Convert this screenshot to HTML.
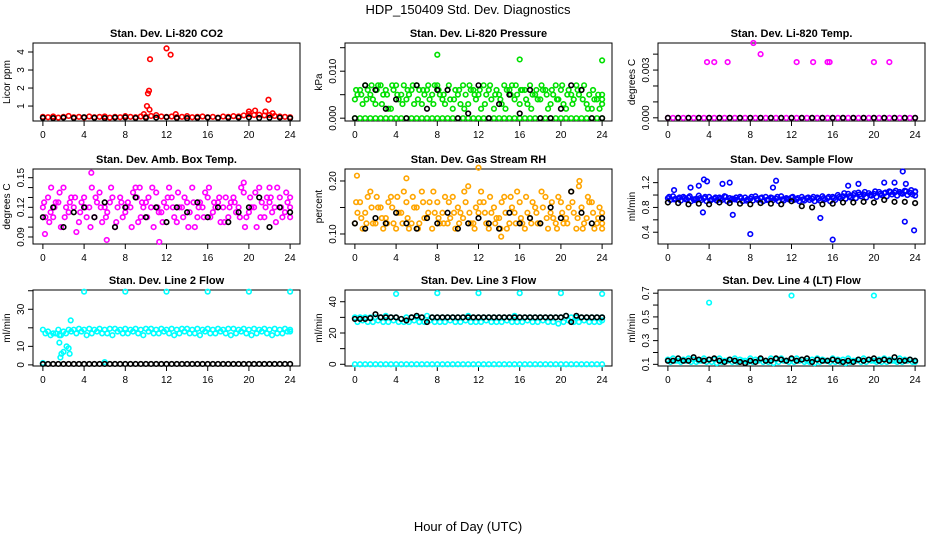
<!DOCTYPE html>
<html><head><meta charset="utf-8"><style>
body{margin:0;background:#fff}
svg{display:block;font-family:"Liberation Sans",sans-serif}
</style></head><body>
<svg id="chart" width="936" height="540" viewBox="0 0 936 540" xmlns="http://www.w3.org/2000/svg">
<text x="468" y="14" text-anchor="middle" font-size="13">HDP_150409  Std. Dev. Diagnostics</text>
<text x="468" y="531" text-anchor="middle" font-size="13">Hour of Day (UTC)</text>
</svg>
<script>
// ---- data ----
const co2Red=[0.4,0.38,0.42,0.36,0.4,0.45,0.38,0.4,0.36,0.42,0.38,0.4,0.42,0.36,0.4,0.38,0.44,0.4,0.38,0.42,0.4,0.45,0.5,0.42,0.4,0.42,0.38,0.4,0.44,0.38,0.4,0.42,0.38,0.4,0.36,0.42,0.4,0.44,0.42,0.48,0.55,0.5,0.52,0.48,0.5,0.45,0.42,0.4,0.38];
const co2Black=[0.35,0.33,0.36,0.34,0.38,0.35,0.33,0.36,0.37,0.34,0.35,0.36,0.38,0.34,0.33,0.35,0.36,0.34,0.35,0.36,0.37,0.34,0.35,0.36,0.33];
const co2OutX=[10.1,10.2,10.3,10.4,10.35,12,12.4,21.9,20,20.6,21.6,22.3,9.8,12.9];
const co2OutY=[1.0,1.7,1.85,3.6,0.8,4.2,3.85,1.35,0.7,0.75,0.7,0.6,0.55,0.55];

const presGreenA=[0.004,0.006,0.007,0.005,0.003,0.007,0.006,0.002,0.007,0.005,0.004,0.006,0.007,0.003,0.006,0.005,0.007,0.004,0.006,0.002,0.005,0.007,0.003,0.006,0.005,0.007,0.006,0.002,0.005,0.007,0.006,0.004,0.003,0.006,0.007,0.005,0.004,0.006,0.003,0.007,0.006,0.002,0.005,0.007,0.006,0.003,0.002,0.004,0.003];
const presGreenB=[0.005,0.003,0.006,0.004,0.007,0.005,0.002,0.006,0.004,0.007,0.005,0.003,0.006,0.005,0.004,0.007,0.005,0.003,0.004,0.006,0.003,0.005,0.006,0.004,0.002,0.005,0.004,0.006,0.003,0.006,0.007,0.005,0.006,0.003,0.005,0.004,0.006,0.002,0.005,0.004,0.003,0.006,0.004,0.005,0.007,0.005,0.004,0.002,0.005];
const presGreenC=[0.006,0.005,0.004,0.007,0.006,0.003,0.005,0.007,0.005,0.003,0.006,0.007,0.004,0.006,0.007,0.003,0.006,0.005,0.007,0.004,0.006,0.002,0.007,0.005,0.006,0.003,0.007,0.005,0.004,0.002,0.005,0.007,0.006,0.004,0.002,0.006,0.007,0.005,0.006,0.004,0.007,0.005,0.003,0.006,0.004,0.002,0.006,0.005,0.004];
const presGreenZero=[0,0,0,0,0,0,0,0,0,0,0,0,0,0,0,0,0,0,0,0,0,0,0,0,0,0,0,0,0,0,0,0,0,0,0,0,0,0,0,0,0,0,0,0,0,0,0,0,0];
const presBlack=[0,0.007,0.006,0.002,0.004,0,0.007,0.002,0.006,0.006,0,0.001,0.007,0,0.003,0.005,0.001,0.006,0,0,0.002,0.007,0.006,0,0];
const presOutX=[8,16,24];
const presOutY=[0.0135,0.0125,0.0123];

const tempMag=[0,0,0,0,0,0,0,0,0,0,0,0,0,0,0,0,0,0,0,0,0,0,0,0,0,0,0,0,0,0,0,0,0,0,0,0,0,0,0,0,0,0,0,0,0,0,0,0,0];
const tempBlack=[0,0,0,0,0,0,0,0,0,0,0,0,0,0,0,0,0,0,0,0,0,0,0,0,0];
const tempOutX=[3.8,4.5,5.8,8.3,9,12.5,14.1,15.5,15.7,20,21.5];
const tempOutY=[0.0035,0.0035,0.0035,0.0047,0.004,0.0035,0.0035,0.0035,0.0035,0.0035,0.0035];

const ambA=[0.12,0.13,0.11,0.125,0.14,0.115,0.12,0.105,0.13,0.12,0.11,0.135,0.12,0.125,0.1,0.13,0.115,0.12,0.14,0.11,0.125,0.12,0.135,0.115,0.12,0.13,0.105,0.12,0.125,0.14,0.11,0.12,0.13,0.115,0.125,0.12,0.11,0.13,0.12,0.135,0.115,0.12,0.14,0.11,0.125,0.12,0.13,0.115,0.12];
const ambB=[0.11,0.115,0.125,0.1,0.12,0.13,0.095,0.125,0.11,0.14,0.125,0.105,0.115,0.13,0.12,0.11,0.125,0.135,0.105,0.12,0.13,0.1,0.115,0.125,0.14,0.11,0.12,0.13,0.115,0.1,0.125,0.135,0.11,0.12,0.105,0.13,0.125,0.115,0.14,0.11,0.12,0.1,0.125,0.13,0.115,0.14,0.11,0.125,0.13];
const ambC=[0.125,0.105,0.12,0.135,0.11,0.125,0.13,0.115,0.12,0.1,0.13,0.12,0.11,0.14,0.105,0.125,0.12,0.1,0.13,0.125,0.11,0.14,0.12,0.105,0.13,0.12,0.135,0.11,0.1,0.125,0.12,0.11,0.14,0.125,0.13,0.105,0.12,0.125,0.11,0.1,0.13,0.135,0.11,0.12,0.13,0.105,0.12,0.135,0.11];
const ambBlack=[0.11,0.12,0.1,0.115,0.12,0.11,0.125,0.1,0.12,0.13,0.11,0.12,0.105,0.12,0.115,0.125,0.11,0.12,0.105,0.115,0.12,0.13,0.1,0.12,0.115];
const ambOutX=[4.7,6.2,11.3,19.5,22,0.2,0.8,9.4];
const ambOutY=[0.155,0.087,0.085,0.145,0.14,0.093,0.14,0.14];

const rhA=[0.12,0.16,0.14,0.18,0.12,0.15,0.13,0.17,0.11,0.14,0.16,0.12,0.15,0.18,0.13,0.11,0.16,0.14,0.12,0.17,0.15,0.13,0.19,0.12,0.14,0.16,0.11,0.15,0.13,0.17,0.12,0.14,0.16,0.11,0.13,0.15,0.12,0.17,0.14,0.12,0.16,0.13,0.18,0.11,0.15,0.13,0.16,0.12,0.14];
const rhB=[0.14,0.11,0.17,0.12,0.15,0.11,0.16,0.12,0.14,0.18,0.11,0.15,0.12,0.13,0.16,0.14,0.12,0.17,0.13,0.11,0.14,0.16,0.12,0.15,0.18,0.12,0.14,0.13,0.16,0.11,0.15,0.18,0.12,0.14,0.16,0.12,0.15,0.11,0.13,0.17,0.12,0.15,0.14,0.19,0.12,0.16,0.11,0.15,0.12];
const rhC=[0.16,0.13,0.12,0.15,0.17,0.13,0.12,0.15,0.17,0.12,0.13,0.17,0.11,0.16,0.14,0.18,0.13,0.12,0.16,0.14,0.12,0.18,0.14,0.11,0.16,0.14,0.17,0.12,0.11,0.14,0.17,0.12,0.13,0.17,0.12,0.14,0.18,0.13,0.16,0.11,0.14,0.12,0.16,0.13,0.11,0.17,0.14,0.13,0.11];
const rhBlack=[0.12,0.11,0.13,0.12,0.14,0.12,0.11,0.13,0.12,0.14,0.11,0.12,0.13,0.12,0.11,0.14,0.12,0.13,0.12,0.15,0.13,0.18,0.14,0.12,0.13];
const rhOutX=[0.2,5,12,21.8,14.2];
const rhOutY=[0.21,0.205,0.225,0.2,0.095];

const flowA=[0.95,0.98,0.94,0.97,0.96,0.93,0.99,0.95,0.97,0.94,0.96,0.98,0.95,0.93,0.97,0.96,0.94,0.98,0.95,0.97,0.96,0.94,0.98,0.95,0.96,0.93,0.97,0.95,0.94,0.96,0.98,0.95,0.97,1.0,0.98,1.02,1.0,1.04,1.01,1.03,1.02,1.05,1.03,1.06,1.04,1.05,1.07,1.04,1.05];
const flowB=[0.92,0.94,0.91,0.93,0.9,0.94,0.92,0.9,0.93,0.91,0.92,0.9,0.94,0.92,0.9,0.93,0.91,0.92,0.9,0.93,0.92,0.9,0.91,0.93,0.92,0.9,0.91,0.92,0.9,0.91,0.93,0.9,0.92,0.95,0.94,0.96,0.95,0.98,0.96,0.99,0.97,1.0,0.98,1.01,0.99,1.02,1.0,1.01,0.99];
const flowC=[0.97,0.93,0.96,0.95,0.98,0.92,0.95,0.97,0.91,0.96,0.94,0.97,0.92,0.96,0.95,0.91,0.97,0.94,0.96,0.92,0.95,0.97,0.93,0.94,0.97,0.95,0.93,0.96,0.97,0.94,0.95,0.97,0.95,0.97,1.03,0.98,1.03,1.01,1.05,1.0,1.06,1.02,1.04,1.05,1.07,1.03,1.06,1.08,1.06];
const flowBlack=[0.88,0.87,0.85,0.86,0.85,0.88,0.87,0.86,0.85,0.87,0.86,0.85,0.9,0.82,0.8,0.85,0.86,0.88,0.88,0.89,0.88,0.92,0.89,0.89,0.87];
const flowOutX=[0.6,2.2,3,3.5,3.8,3.4,5.3,6,6.3,8,10.5,10.2,14.8,16,17.5,18.5,21,22,22.8,23,23.9,23.1];
const flowOutY=[1.08,1.12,1.15,1.25,1.22,0.72,1.18,1.2,0.68,0.37,1.23,1.12,0.63,0.28,1.15,1.18,1.2,1.2,1.38,0.57,0.43,1.18];

const l2A=[19,18,17,19,18,19,19,19.5,19,19.5,19,19.5,19,19.5,19.5,19,19.5,19,19.5,19,19.5,19.5,19,19.5,19,19.5,19,19.5,19.5,19,19.5,19,19.5,19,19.5,19,19.5,19.5,19,19.5,19,19.5,19,19.5,19,19.5,19,19.5,19];
const l2B=[17,16,17,16,17,18,17,18,16,17,18,17,17,16,18,17,17,18,17,16,18,17,17,18,17,16,17,18,17,17,16,18,17,17,18,17,16,17,18,17,16,17,18,17,16,17,17,18,18];
const l2Black=[0.5,0.5,0.5,0.5,0.5,0.5,0.5,0.5,0.5,0.5,0.5,0.5,0.5,0.5,0.5,0.5,0.5,0.5,0.5,0.5,0.5,0.5,0.5,0.5,0.5,0.5,0.5,0.5,0.5,0.5,0.5,0.5,0.5,0.5,0.5,0.5,0.5,0.5,0.5,0.5,0.5,0.5,0.5,0.5,0.5,0.5,0.5,0.5,0.5];
const l2OutX=[4,8,12,16,20,24,1.6,1.7,1.8,2,2.3,2.5,2.6,2.7,1.6,0,6];
const l2OutY=[39.5,39.5,39.5,39.5,39.5,39.5,12,4,6,7,10,9,6,24,16,1,1.5];

const l3A=[30,30,30,30,30,30,31,30,30,29,30,30,30,30,31,30,30,30,30,30,30,30,31,30,30,30,30,30,30,30,30,31,30,30,30,30,30,30,30,30,30,31,30,30,30,30,30,30,30];
const l3B=[27,28,27,27,28,27,27,28,27,27,27,28,27,27,28,27,27,27,28,27,27,28,27,27,27,28,27,27,27,28,27,27,27,28,27,27,28,27,27,26,27,28,27,27,28,27,27,27,28];
const l3Zero=[0,0,0,0,0,0,0,0,0,0,0,0,0,0,0,0,0,0,0,0,0,0,0,0,0,0,0,0,0,0,0,0,0,0,0,0,0,0,0,0,0,0,0,0,0,0,0,0,0];
const l3Black=[29,29,29,29.5,32,30,30,30,30,29,28,30,31,30,27,30,30,30,30,30,30,30,30,30,30,30,30,30,30,30,30,30,30,30,30,30,30,30,30,30,30,31,27,31,30,30,30,30,30];
const l3OutX=[4,8,12,16,20,24];
const l3OutY=[45,45.5,45.5,45.5,45.5,45];

const l4A=[0.14,0.15,0.13,0.14,0.15,0.14,0.13,0.15,0.14,0.14,0.15,0.13,0.14,0.15,0.14,0.13,0.15,0.14,0.14,0.13,0.15,0.14,0.15,0.13,0.14,0.15,0.14,0.13,0.14,0.15,0.14,0.13,0.15,0.14,0.14,0.15,0.13,0.14,0.15,0.14,0.13,0.14,0.15,0.14,0.13,0.15,0.14,0.14,0.13];
const l4B=[0.12,0.13,0.12,0.13,0.12,0.12,0.13,0.12,0.12,0.11,0.12,0.13,0.12,0.12,0.13,0.12,0.12,0.13,0.12,0.12,0.11,0.12,0.13,0.12,0.12,0.13,0.12,0.12,0.11,0.12,0.13,0.12,0.12,0.12,0.11,0.12,0.13,0.12,0.12,0.13,0.12,0.12,0.12,0.13,0.12,0.12,0.13,0.12,0.12];
const l4Black=[0.13,0.13,0.15,0.13,0.13,0.16,0.14,0.13,0.14,0.15,0.13,0.12,0.14,0.13,0.12,0.11,0.13,0.12,0.15,0.13,0.13,0.15,0.14,0.13,0.15,0.13,0.14,0.15,0.12,0.14,0.13,0.13,0.14,0.13,0.12,0.13,0.12,0.14,0.13,0.14,0.15,0.13,0.14,0.13,0.16,0.13,0.13,0.14,0.13];
const l4OutX=[4,12,20];
const l4OutY=[0.62,0.68,0.68];

const xTicks=[0,4,8,12,16,20,24];

// ---- drawing ----
const NS="http://www.w3.org/2000/svg";
const svg=document.getElementById('chart');
function mk(tag,attrs,parent){const e=document.createElementNS(NS,tag);for(const k in attrs)e.setAttribute(k,attrs[k]);(parent||svg).appendChild(e);return e;}
const colL=[33,345,658], boxW=267;
const rowB=[[43,121],[169,244],[290,366]];
const XMIN=-0.96,XMAX=24.96;

function panel(p){
  const L=colL[p.col],R=L+boxW,T=rowB[p.row][0],B=rowB[p.row][1];
  const g=mk('g',{});
  
  
  const sx=v=>L+(v-XMIN)/(XMAX-XMIN)*(R-L);
  const sy=v=>B-(v-p.ylim[0])/(p.ylim[1]-p.ylim[0])*(B-T);
  const box=mk('rect',{x:L,y:T,width:R-L,height:B-T,fill:'none',stroke:'#000','stroke-width':1},g);
  
  
  const t=mk('text',{x:(L+R)/2,y:T-6,'text-anchor':'middle','font-size':11,'font-weight':'bold'},g);
  t.textContent=p.title;
  
  
  const xa=mk('g',{},g);
  
  
  mk('line',{x1:sx(0),x2:sx(24),y1:B,y2:B,stroke:'#000'},xa);
  xTicks.forEach(v=>{mk('line',{x1:sx(v),x2:sx(v),y1:B,y2:B+5,stroke:'#000'},xa);
    const tl=mk('text',{x:sx(v),y:B+17,'text-anchor':'middle','font-size':10},xa);tl.textContent=v;});
  const ya=mk('g',{},g);
  
  
  mk('line',{x1:L,x2:L,y1:sy(p.yticks[0]),y2:sy(p.yticks[p.yticks.length-1]),stroke:'#000'},ya);
  p.yticks.forEach(v=>{mk('line',{x1:L-5,x2:L,y1:sy(v),y2:sy(v),stroke:'#000'},ya);});
  p.ylabels.forEach(v=>{const y=sy(+v);const tl=mk('text',{x:L-9,y:y,'text-anchor':'middle','font-size':10,transform:`rotate(-90 ${L-9} ${y})`},ya);tl.textContent=v;});
  const yl=mk('text',{x:L-23,y:(T+B)/2,'text-anchor':'middle','font-size':10,transform:`rotate(-90 ${L-23} ${(T+B)/2})`},g);
  yl.textContent=p.ylab;
  
  
  p.series.forEach(s=>{
    const sg=mk('g',{fill:'none',stroke:s.color,'stroke-width':1.6},g);
    
    
    const n=s.y.length, off=s.off||0;
    s.y.forEach((v,i)=>{
      const hx=s.x?s.x[i]:Math.min(24,off+(n>1?i*24/(n-1):0));
      const c=mk('circle',{cx:sx(hx),cy:sy(v),r:2.3},sg);
      
      
    });
  });
}
const RED='#ff0000',BLK='#000',GRN='#00e000',MAG='#ff00ff',ORG='#ffa500',BLU='#0000ff',CYN='#00ffff';
panel({name:'co2',col:0,row:0,title:'Stan. Dev. Li-820 CO2',ylab:'Licor ppm',ylim:[0.17,4.5],yticks:[1,2,3,4],ylabels:['1','2','3','4'],
 series:[{id:'red',color:RED,y:co2Red},{id:'red-outliers',color:RED,x:co2OutX,y:co2OutY},{id:'black',color:BLK,y:co2Black}]});
panel({name:'pressure',col:1,row:0,title:'Stan. Dev. Li-820 Pressure',ylab:'kPa',ylim:[-0.0006,0.016],yticks:[0,0.005,0.01,0.015],ylabels:['0.000','0.010'],
 series:[{id:'green-a',color:GRN,y:presGreenA},{id:'green-b',color:GRN,y:presGreenB,off:0.25},{id:'green-c',color:GRN,y:presGreenC,off:0.12},{id:'green-zero',color:GRN,y:presGreenZero},{id:'green-outliers',color:GRN,x:presOutX,y:presOutY},{id:'black',color:BLK,y:presBlack}]});
panel({name:'temp',col:2,row:0,title:'Stan. Dev. Li-820 Temp.',ylab:'degrees C',ylim:[-0.0002,0.0047],yticks:[0,0.001,0.002,0.003,0.004],ylabels:['0.000','0.003'],
 series:[{id:'magenta',color:MAG,y:tempMag},{id:'magenta-outliers',color:MAG,x:tempOutX,y:tempOutY},{id:'black',color:BLK,y:tempBlack}]});
panel({name:'amb-temp',col:0,row:1,title:'Stan. Dev. Amb. Box Temp.',ylab:'degrees C',ylim:[0.0829,0.1588],yticks:[0.09,0.1,0.11,0.12,0.13,0.14,0.15],ylabels:['0.09','0.12','0.15'],
 series:[{id:'magenta-a',color:MAG,y:ambA},{id:'magenta-b',color:MAG,y:ambB,off:0.25},{id:'magenta-c',color:MAG,y:ambC,off:0.12},{id:'magenta-outliers',color:MAG,x:ambOutX,y:ambOutY},{id:'black',color:BLK,y:ambBlack}]});
panel({name:'rh',col:1,row:1,title:'Stan. Dev. Gas Stream RH',ylab:'percent',ylim:[0.0811,0.2226],yticks:[0.1,0.15,0.2],ylabels:['0.10','0.20'],
 series:[{id:'orange-a',color:ORG,y:rhA},{id:'orange-b',color:ORG,y:rhB,off:0.25},{id:'orange-c',color:ORG,y:rhC,off:0.12},{id:'orange-outliers',color:ORG,x:rhOutX,y:rhOutY},{id:'black',color:BLK,y:rhBlack}]});
panel({name:'sample-flow',col:2,row:1,title:'Stan. Dev. Sample Flow',ylab:'ml/min',ylim:[0.21,1.42],yticks:[0.4,0.6,0.8,1.0,1.2],ylabels:['0.4','0.8','1.2'],
 series:[{id:'blue-a',color:BLU,y:flowA},{id:'blue-b',color:BLU,y:flowB,off:0.25},{id:'blue-c',color:BLU,y:flowC,off:0.12},{id:'blue-outliers',color:BLU,x:flowOutX,y:flowOutY},{id:'black',color:BLK,y:flowBlack}]});
panel({name:'line2',col:0,row:2,title:'Stan. Dev. Line 2 Flow',ylab:'ml/min',ylim:[-0.6,40.4],yticks:[0,10,20,30,40],ylabels:['0','10','30'],
 series:[{id:'cyan-a',color:CYN,y:l2A},{id:'cyan-b',color:CYN,y:l2B,off:0.25},{id:'cyan-outliers',color:CYN,x:l2OutX,y:l2OutY},{id:'black',color:BLK,y:l2Black}]});
panel({name:'line3',col:1,row:2,title:'Stan. Dev. Line 3 Flow',ylab:'ml/min',ylim:[-1.1,47.5],yticks:[0,10,20,30,40],ylabels:['0','20','40'],
 series:[{id:'cyan-a',color:CYN,y:l3A},{id:'cyan-b',color:CYN,y:l3B,off:0.25},{id:'cyan-zero',color:CYN,y:l3Zero},{id:'cyan-outliers',color:CYN,x:l3OutX,y:l3OutY},{id:'black',color:BLK,y:l3Black}]});
panel({name:'line4',col:2,row:2,title:'Stan. Dev. Line 4 (LT) Flow',ylab:'ml/min',ylim:[0.086,0.727],yticks:[0.1,0.2,0.3,0.4,0.5,0.6,0.7],ylabels:['0.1','0.3','0.5','0.7'],
 series:[{id:'cyan-a',color:CYN,y:l4A},{id:'cyan-b',color:CYN,y:l4B,off:0.25},{id:'cyan-outliers',color:CYN,x:l4OutX,y:l4OutY},{id:'black',color:BLK,y:l4Black}]});
</script>
</body></html>
